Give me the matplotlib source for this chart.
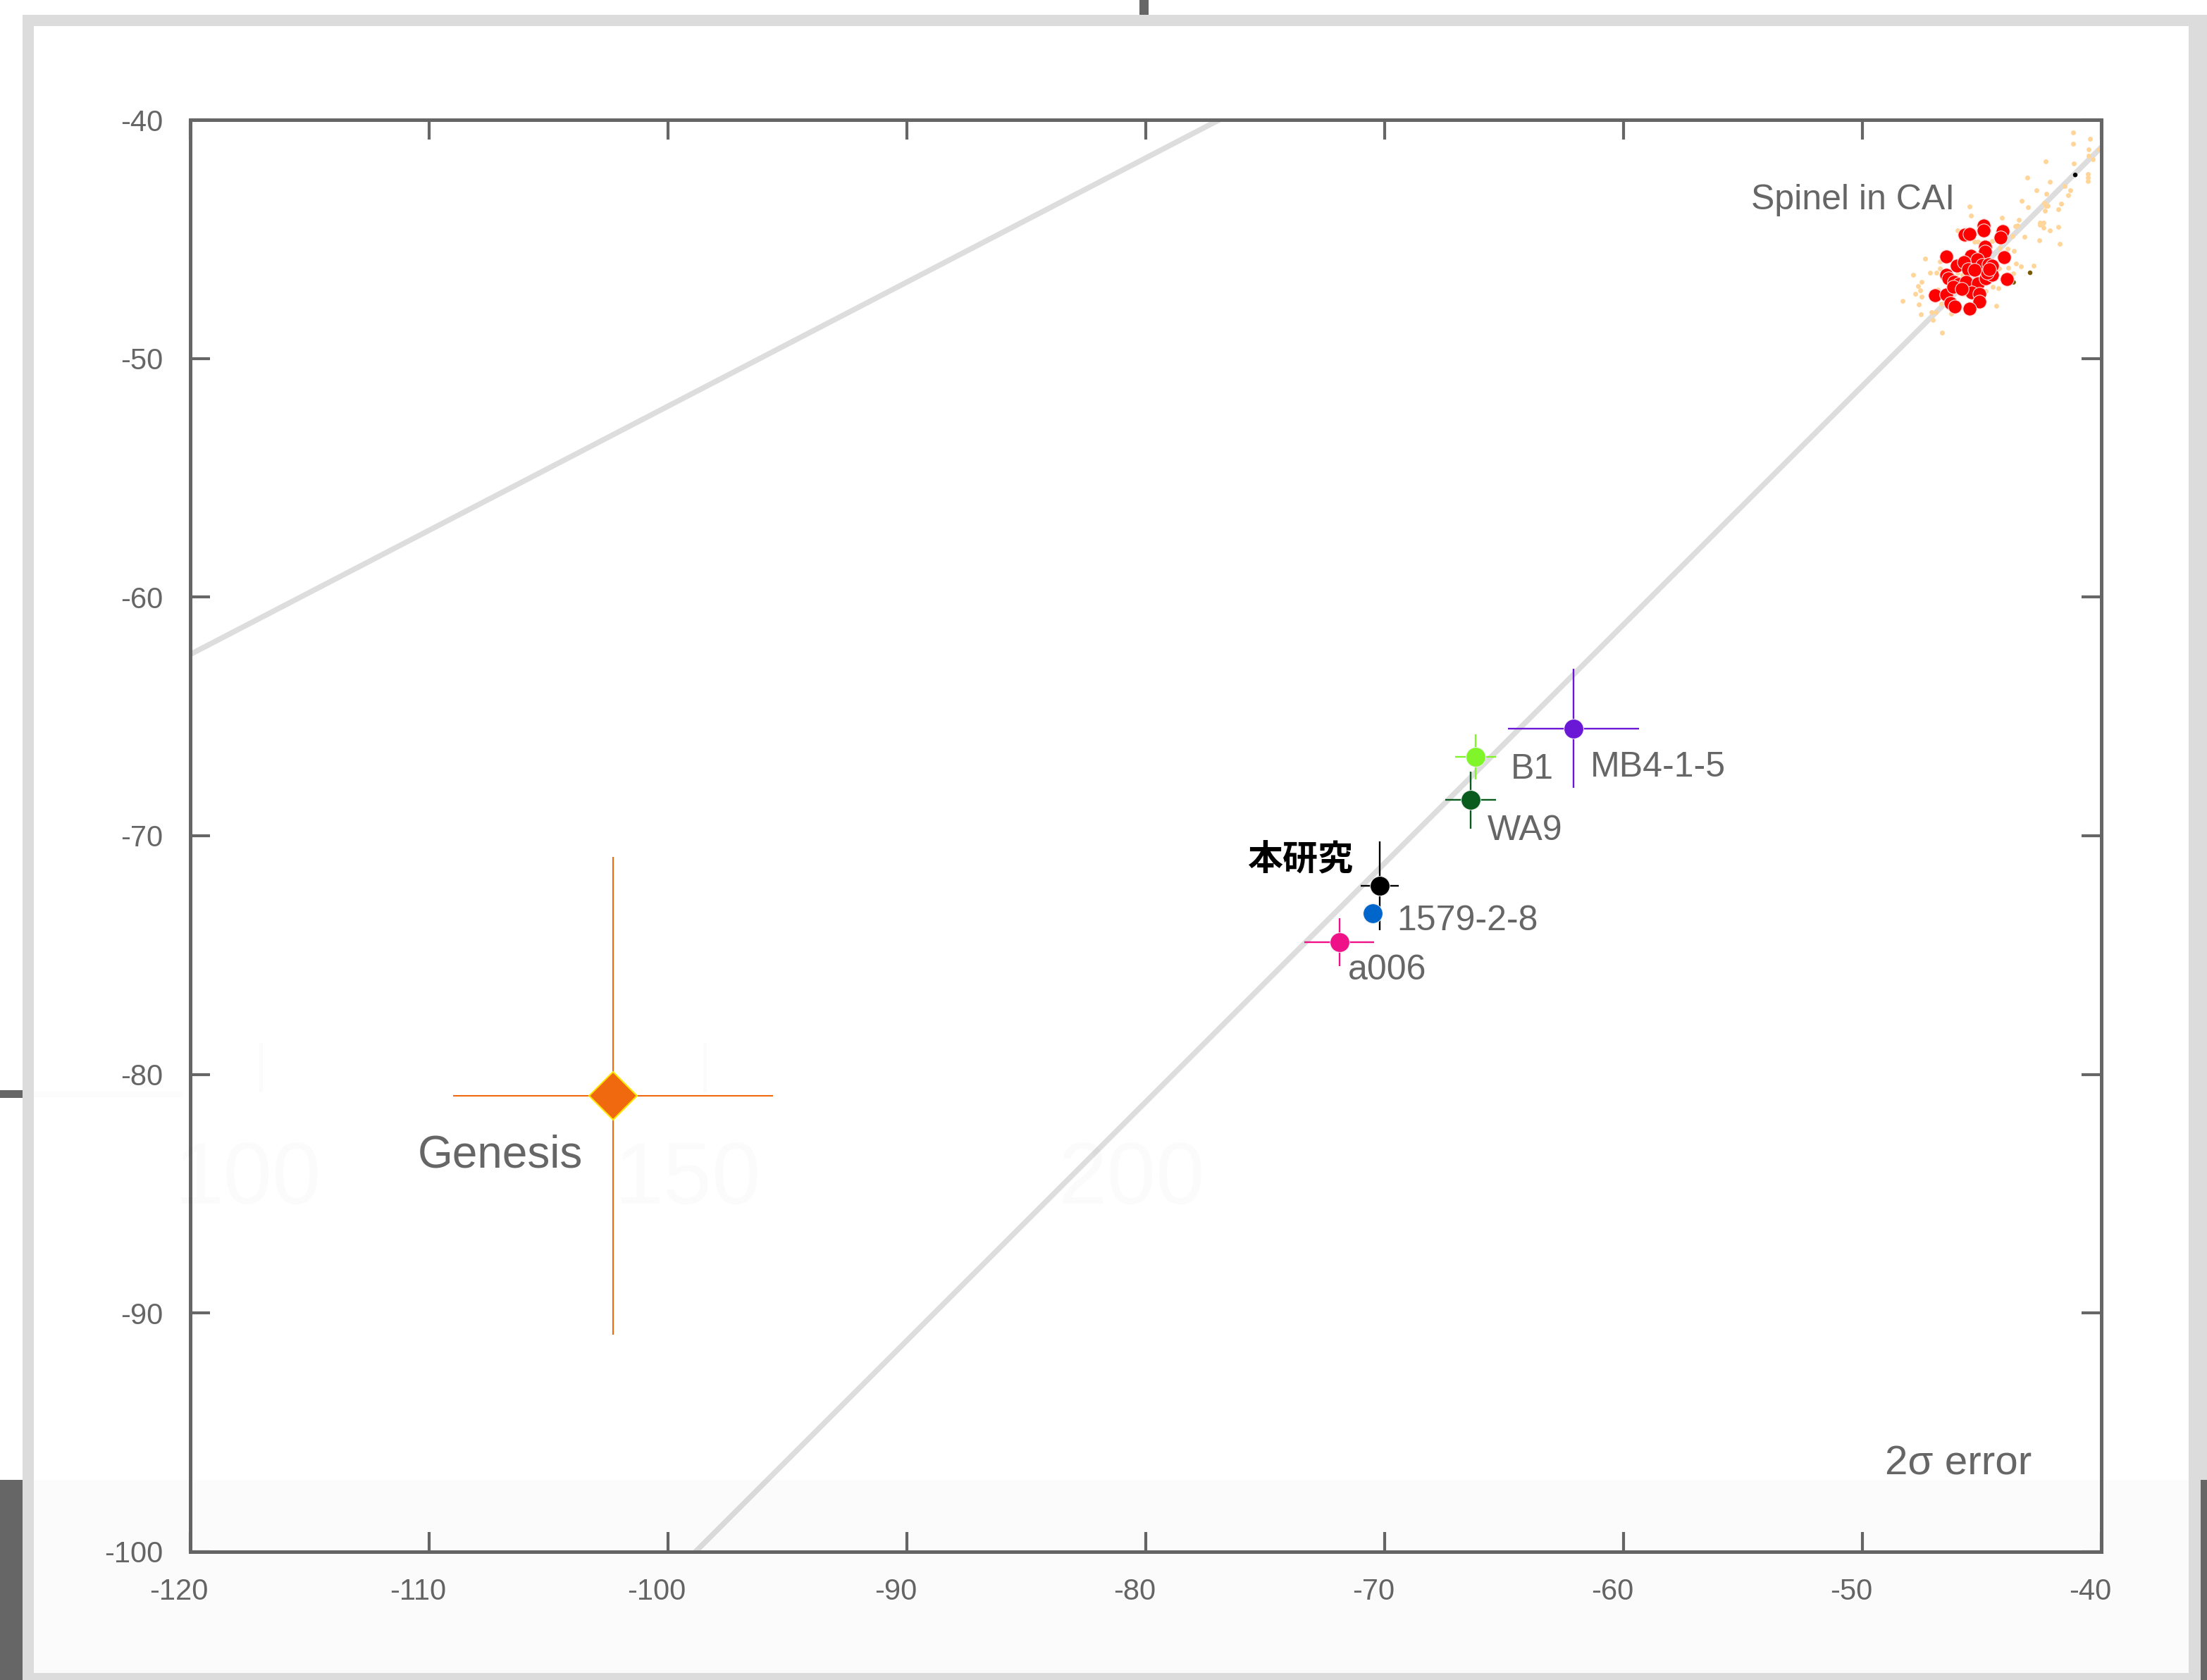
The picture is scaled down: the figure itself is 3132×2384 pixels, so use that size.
import matplotlib
matplotlib.use("Agg")
import matplotlib.pyplot as plt
from matplotlib.patches import Rectangle
from matplotlib.transforms import ScaledTranslation

plt.rcParams['font.family'] = ['Liberation Sans', 'Noto Sans CJK JP', 'DejaVu Sans']

W, H = 3132, 2384
DPI = 100

# ---- data: d18O (x) vs d17O (y), permil ----
sample_names = ["MB4-1-5", "B1", "WA9", "本研究", "1579-2-8", "a006"]
sample_x = [-62.1, -66.2, -66.4, -70.2, -70.5, -71.9]
sample_y = [-65.5, -66.7, -68.5, -72.1, -73.25, -74.45]
sample_xerr = [2.75, 0.85, 1.05, 0.8, 0.0, 1.45]
sample_yerr = [2.5, 0.95, 1.2, 1.85, 0.0, 1.0]
sample_colors = ["#6a17d6", "#80f52a", "#0a5c1e", "#000000", "#0066cc", "#ee1188"]
# label anchor (left/right edge, baseline) in data units
label_x = [-61.39, -64.72, -65.69, -71.33, -69.50, -71.53]
label_y = [-67.52, -67.61, -70.17, -71.45, -73.95, -76.02]

genesis_x, genesis_y = -102.3, -80.9
genesis_xerr, genesis_yerr = 6.7, 10.0

spinel_x = [-44.93, -44.93, -45.71, -45.52, -44.14, -44.21, -44.88, -44.88, -46.48,
            -46.04, -45.47, -45.20, -44.98, -44.73, -44.58, -45.76, -45.57, -46.50,
            -46.40, -46.16, -45.96, -45.67, -45.17, -44.83, -44.58, -44.78, -44.07,
            -43.94, -46.96, -46.50, -46.30, -46.13, -45.42, -45.10, -45.10, -45.52,
            -45.30, -44.70, -46.20, -45.85]
spinel_y = [-44.43, -44.63, -44.82, -44.77, -44.68, -44.92, -45.31, -45.51, -45.73,
            -46.10, -45.71, -45.86, -46.08, -46.05, -46.10, -45.96, -46.25, -46.50,
            -46.64, -46.79, -46.89, -46.79, -46.84, -46.64, -46.50, -46.40, -45.76,
            -46.66, -47.36, -47.33, -47.68, -47.82, -47.23, -47.28, -47.61, -47.92,
            -46.30, -46.25, -47.00, -47.10]

cai_x = [-41.19, -40.48, -41.19, -40.53, -40.08, -40.53, -40.34, -42.32, -41.16, -43.11,
         -42.16, -40.57, -40.57, -40.57, -41.54, -41.29, -42.70, -42.29, -41.38, -43.33,
         -41.68, -43.06, -42.40, -42.32, -42.25, -42.35, -41.81, -45.51, -45.45, -44.15,
         -43.44, -43.60, -43.52, -42.57, -42.42, -42.57, -42.41, -42.16, -41.80, -43.21,
         -43.72, -42.61, -41.73, -46.01, -45.76, -45.32, -45.17, -44.65, -43.91, -43.65,
         -47.36, -46.75, -46.75, -47.16, -46.91, -43.90, -43.57, -43.35, -42.84, -43.70,
         -44.29, -47.87, -47.51, -47.68, -47.58, -47.80, -47.51, -48.31, -47.65, -47.11,
         -46.92, -47.05, -47.54, -46.66, -46.27, -44.39, -44.53, -44.32, -44.83, -45.76,
         -46.85, -46.70, -46.01, -46.16, -45.81, -45.27, -44.24, -44.58]
cai_y = [-40.54, -40.79, -41.01, -41.25, -41.23, -41.51, -41.65, -41.74, -41.84, -42.43,
         -42.60, -42.28, -42.41, -42.56, -42.77, -42.95, -42.96, -43.10, -43.15, -43.40,
         -43.51, -43.66, -43.47, -43.59, -43.61, -43.82, -43.76, -43.63, -44.02, -44.11,
         -44.18, -44.45, -44.43, -44.30, -44.30, -44.40, -44.51, -44.65, -44.49, -44.90,
         -44.87, -45.05, -45.20, -44.63, -45.02, -45.12, -45.10, -45.32, -45.39, -45.48,
         -45.83, -45.93, -46.22, -46.41, -46.41, -46.20, -46.02, -46.15, -46.11, -46.45,
         -46.23, -46.50, -46.80, -46.97, -47.16, -47.28, -47.40, -47.60, -47.73, -48.05,
         -48.05, -48.39, -48.14, -48.93, -48.12, -47.80, -47.00, -47.06, -47.17, -47.28,
         -47.11, -47.70, -46.40, -47.14, -46.50, -46.50, -45.36, -45.07]
other_x = [-41.09, -42.98, -43.67]
other_y = [-42.31, -46.41, -46.81]
other_colors = ["#000000", "#7a5a00", "#7a5a00"]

# reference lines: terrestrial fractionation and slope-1 line
tf_slope, tf_icpt = 0.52, 0.0
ccam_slope, ccam_icpt = 1.0, -1.15

xticks = list(range(-120, -39, 10))
yticks = list(range(-100, -39, 10))

GRAY = "#666666"

fig = plt.figure(figsize=(W / DPI, H / DPI), dpi=DPI)


def px_rect(x0, y0, x1, y1, color, **kw):
    fig.add_artist(Rectangle((x0 / W, 1 - y1 / H), (x1 - x0) / W, (y1 - y0) / H,
                             transform=fig.transFigure, color=color, lw=0, **kw))


# slide frame around the chart
LIGHT = "#dcdcdc"
px_rect(32, 21, 3132, 37, LIGHT)
px_rect(32, 21, 48, 2384, LIGHT)
px_rect(3106, 21, 3132, 2100, LIGHT)
px_rect(3106, 2100, 3123, 2384, LIGHT)
px_rect(32, 2374, 3123, 2384, LIGHT)
px_rect(1617, 0, 1630, 21, GRAY)
px_rect(0, 2100, 32, 2384, GRAY)
px_rect(0, 1547, 32, 1558, GRAY)
px_rect(3123, 2100, 3132, 2384, GRAY)

ax = fig.add_axes([270 / W, 1 - 2202 / H, 2712 / W, 2032 / H])
ax.set_xlim(-120, -40)
ax.set_ylim(-100, -40)

ax.axline((0, tf_icpt), slope=tf_slope, color="#dddddd", lw=5.5, zorder=1)
ax.axline((0, ccam_icpt), slope=ccam_slope, color="#dddddd", lw=5.5, zorder=1)

# CAI spinel cloud
ax.plot(cai_x, cai_y, 'o', ms=5, color="#ffd59a", mew=0, zorder=2)
ax.scatter(other_x, other_y, s=22, c=other_colors, lw=0, zorder=2)
ax.plot(spinel_x, spinel_y, 'o', ms=14, color="#ff0000", mec="#ffe0e0", mew=0.8, zorder=3)

# Genesis
ax.errorbar(genesis_x, genesis_y, xerr=genesis_xerr, yerr=genesis_yerr, fmt='none',
            ecolor="#f0690f", elinewidth=1.5, capsize=0, zorder=3)
ax.plot(genesis_x, genesis_y, 'D', ms=35, color="#f0690f", mec="#ffe500", mew=1.5, zorder=4)
ax.text(-103.57, -83.90, "Genesis", fontsize=46, color=GRAY, ha='right', va='baseline', zorder=5)

# samples
for i in range(len(sample_names)):
    c = sample_colors[i]
    if sample_xerr[i] > 0 or sample_yerr[i] > 0:
        ax.errorbar(sample_x[i], sample_y[i], xerr=sample_xerr[i], yerr=sample_yerr[i],
                    fmt='none', ecolor=c, elinewidth=1.7, capsize=0, zorder=3)
    ax.plot(sample_x[i], sample_y[i], 'o', ms=20, color=c, mec="#f0f0f0", mew=0.7, zorder=4)

for i, name in enumerate(sample_names):
    if name == "本研究":
        ax.text(label_x[i], label_y[i], name, fontsize=36, color="black", weight='bold',
                family=['Noto Sans CJK JP'], ha='right', va='baseline', zorder=5)
    else:
        ax.text(label_x[i], label_y[i], name, fontsize=36, color=GRAY,
                ha='left', va='baseline', zorder=5)

ax.text(-54.66, -43.75, "Spinel in CAI", fontsize=36, color=GRAY, ha='left', va='baseline', zorder=5)
ax.text(-49.06, -96.78, "2σ error", fontsize=42, color=GRAY, ha='left', va='baseline', zorder=5)

ax.set_xticks(xticks)
ax.set_yticks(yticks)
ax.set_xticklabels([str(v) for v in xticks])
ax.set_yticklabels([str(v) for v in yticks])
ax.tick_params(axis='both', which='both', direction='in', top=True, right=True,
               length=20, width=3, color=GRAY, labelsize=30, labelcolor=GRAY)
ax.tick_params(axis='x', pad=27)
ax.tick_params(axis='y', pad=28)
for lab in ax.get_xticklabels():
    lab.set_transform(lab.get_transform() + ScaledTranslation(-16 / DPI, 0, fig.dpi_scale_trans))
for s in ax.spines.values():
    s.set_color(GRAY)
    s.set_linewidth(3.6)

# faint ghost of an underlying slide
ghost = dict(color="black", alpha=0.014, fontsize=90, ha='center', va='center')
fig.text(352 / W, 1 - 1676 / H, "100", **ghost)
fig.text(976 / W, 1 - 1676 / H, "150", **ghost)
fig.text(1606 / W, 1 - 1676 / H, "200", **ghost)
px_rect(368, 1480, 373, 1550, "black", alpha=0.015)
px_rect(998, 1480, 1003, 1550, "black", alpha=0.015)
px_rect(48, 1548, 260, 1557, "black", alpha=0.012)

# faint tint of the lower strip
px_rect(48, 2100, 3106, 2374, "black", alpha=0.015, zorder=10)

fig.savefig("out.png", dpi=DPI)
